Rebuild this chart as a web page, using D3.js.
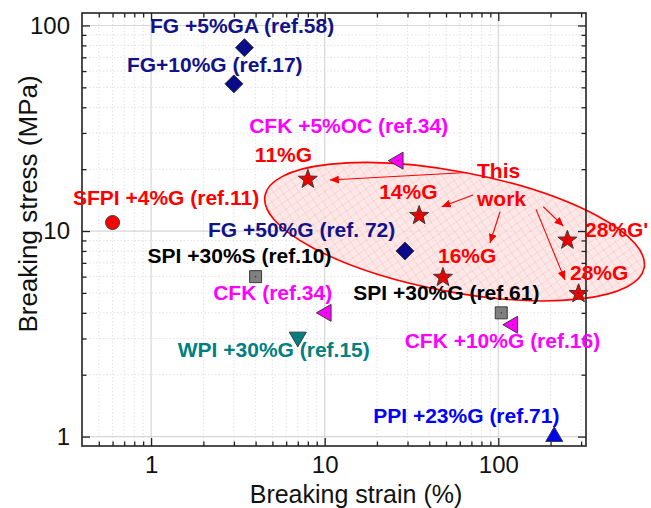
<!DOCTYPE html>
<html><head><meta charset="utf-8">
<script src="https://cdn.jsdelivr.net/npm/d3@7"></script>
<style>body{margin:0;background:#fff}svg{display:block}</style>
</head><body><svg id="c" width="651" height="508"></svg>
<script>
// ---------- data ----------
const labels = ["FG +5%GA (ref.58)","FG+10%G (ref.17)","SFPI +4%G (ref.11)","11%G","CFK +5%OC (ref.34)","14%G","28%G'","FG +50%G (ref. 72)","16%G","28%G","SPI +30%S (ref.10)","SPI +30%G (ref.61)","CFK +10%G (ref.16)","CFK (ref.34)","WPI +30%G (ref.15)","PPI +23%G (ref.71)"];
const strain = [3.45, 3, 0.6, 8, 26.5, 35, 250, 29, 48, 290, 4, 104, 121, 10.2, 7, 210];
const stress = [78, 52, 11, 18, 22, 12, 9.1, 8, 6, 5, 6, 4, 3.5, 4, 3.05, 1.0];
const kind = ["FG","FG","SFPI","this","CFK","this","this","FG","this","this","SPI","SPI","CFK","CFK","WPI","PPI"];
const xTicks = [1, 10, 100];
const yTicks = [1, 10, 100];
const xTickLabels = ["1", "10", "100"];
const yTickLabels = ["1", "10", "100"];
const xTitle = "Breaking strain (%)";
const yTitle = "Breaking stress (MPa)";
const noteText = ["This", "work"];
const noteAt = [75.4, 18.1];          // data position of "This work"
const ellipseAt = [56, 9.93];         // data position of the ellipse centre
const arrowTargets = [3, 5, 8, 6, 9]; // indices of "this work" points

// ---------- layout ----------
const W = 651, H = 508;
const m = {l: 82, r: 586, t: 13, b: 446};
const labelDx = [-94.5,-107,-39.6,-53,-149,-40,17.6,-197,-5,-8.6,-108,-148,-108,-113,-120,-181];
const labelDy = [-14.6,-12,-17.5,-16.5,-27.6,-15.7,-2.4,-14,-13.6,-13,-13.6,-12.8,23.3,-12.8,20,-13.6];
const arrowStart = [[-10,-5.5],[-4,17],[23,33.7],[66.3,28.7],[59,31.3]];
const arrowEnd = [[22,1.5],[22.5,-8],[47,-33.6],[-4,-13.4],[-13.6,-13]];
const ell = {rx: 193, ry: 60, angle: 10.8};

const style = {
  FG:   {sym: "diamond", fill: "#0a0a8c", text: "#12128a"},
  SFPI: {sym: "circle",  fill: "#ff0000", text: "#ff0000"},
  this: {sym: "star",    fill: "#ee0000", text: "#ff0000"},
  CFK:  {sym: "left",    fill: "#ff00ff", text: "#ff00ff"},
  SPI:  {sym: "square",  fill: "#808080", text: "#000000"},
  WPI:  {sym: "down",    fill: "#008080", text: "#008080"},
  PPI:  {sym: "up",      fill: "#0000ff", text: "#0000ff"}
};

const FONT = "'Liberation Sans', Arial, sans-serif";
const svg = d3.select("#c");
svg.append("rect").attr("width", W).attr("height", H).attr("fill", "#fff");

const x = d3.scaleLog().domain([0.4, 320]).range([m.l, m.r]);
const y = d3.scaleLog().domain([0.9, 115]).range([m.b, m.t]);

function minors(dom) {
  const out = [];
  for (let e = -2; e <= 3; e++) for (let k = 2; k <= 9; k++) {
    const v = k * Math.pow(10, e);
    if (v > dom[0] && v < dom[1]) out.push(v);
  }
  return out;
}
const xMinor = minors(x.domain()), yMinor = minors(y.domain());

// ---------- defs ----------
const defs = svg.append("defs");
const pat = defs.append("pattern").attr("id", "hatch").attr("patternUnits", "userSpaceOnUse")
  .attr("width", 10).attr("height", 10);
pat.append("rect").attr("width", 10).attr("height", 10).attr("fill", "#fde4e4");
pat.append("path").attr("d", "M0,0L10,10M10,0L0,10").attr("stroke", "#f7c6c6").attr("stroke-width", 0.9);
defs.append("marker").attr("id", "ah").attr("markerUnits", "userSpaceOnUse")
  .attr("markerWidth", 10).attr("markerHeight", 8).attr("refX", 9).attr("refY", 4)
  .attr("orient", "auto")
  .append("path").attr("d", "M0,0L9,4L0,8Z").attr("fill", "#ff0000");

// ---------- grid ----------
const grid = svg.append("g");
grid.selectAll(".gxm").data(xMinor).join("line")
  .attr("x1", d => x(d)).attr("x2", d => x(d)).attr("y1", m.t).attr("y2", m.b)
  .attr("stroke", "#dcdcdc").attr("stroke-width", 0.8).attr("stroke-dasharray", "1.5,2");
grid.selectAll(".gym").data(yMinor).join("line")
  .attr("y1", d => y(d)).attr("y2", d => y(d)).attr("x1", m.l).attr("x2", m.r)
  .attr("stroke", "#dcdcdc").attr("stroke-width", 0.8).attr("stroke-dasharray", "1.5,2");
grid.selectAll(".gx").data(xTicks).join("line")
  .attr("x1", d => x(d)).attr("x2", d => x(d)).attr("y1", m.t).attr("y2", m.b)
  .attr("stroke", "#d6d6d6").attr("stroke-width", 1.2);
grid.selectAll(".gy").data(yTicks).join("line")
  .attr("y1", d => y(d)).attr("y2", d => y(d)).attr("x1", m.l).attr("x2", m.r)
  .attr("stroke", "#d6d6d6").attr("stroke-width", 1.2);

// ---------- ellipse ----------
const ex = x(ellipseAt[0]), ey = y(ellipseAt[1]);
svg.append("ellipse").attr("cx", 0).attr("cy", 0).attr("rx", ell.rx).attr("ry", ell.ry)
  .attr("transform", `translate(${ex},${ey}) rotate(${ell.angle})`)
  .attr("fill", "url(#hatch)").attr("fill-opacity", 0.85)
  .attr("stroke", "#ff0000").attr("stroke-width", 1.6);

// ---------- axes (inward ticks on all four sides) ----------
const ax = svg.append("g").attr("font-family", FONT);
function styleAxis(g) {
  g.select(".domain").remove();
  g.selectAll(".tick line").attr("stroke", "#222").attr("stroke-width", 1.3);
  g.selectAll("text").attr("font-size", 24).attr("fill", "#111").attr("font-family", FONT);
}
ax.append("g").attr("transform", `translate(0,${m.b})`)
  .call(d3.axisBottom(x).tickValues(xTicks).tickFormat((d, i) => xTickLabels[i]).tickSize(-8).tickPadding(10)).call(styleAxis);
ax.append("g").attr("transform", `translate(0,${m.b})`)
  .call(d3.axisBottom(x).tickValues(xMinor).tickFormat("").tickSize(-4.5)).call(styleAxis);
ax.append("g").attr("transform", `translate(0,${m.t})`)
  .call(d3.axisTop(x).tickValues(xTicks).tickFormat("").tickSize(-8)).call(styleAxis);
ax.append("g").attr("transform", `translate(0,${m.t})`)
  .call(d3.axisTop(x).tickValues(xMinor).tickFormat("").tickSize(-4.5)).call(styleAxis);
ax.append("g").attr("transform", `translate(${m.l},0)`)
  .call(d3.axisLeft(y).tickValues(yTicks).tickFormat((d, i) => yTickLabels[i]).tickSize(-8).tickPadding(12)).call(styleAxis);
ax.append("g").attr("transform", `translate(${m.l},0)`)
  .call(d3.axisLeft(y).tickValues(yMinor).tickFormat("").tickSize(-4.5)).call(styleAxis);
ax.append("g").attr("transform", `translate(${m.r},0)`)
  .call(d3.axisRight(y).tickValues(yTicks).tickFormat("").tickSize(-8)).call(styleAxis);
ax.append("g").attr("transform", `translate(${m.r},0)`)
  .call(d3.axisRight(y).tickValues(yMinor).tickFormat("").tickSize(-4.5)).call(styleAxis);
svg.append("rect").attr("x", m.l).attr("y", m.t).attr("width", m.r - m.l).attr("height", m.b - m.t)
  .attr("fill", "none").attr("stroke", "#222").attr("stroke-width", 1.6);

// axis titles
svg.append("text").attr("x", (245 + 467) / 2).attr("y", 503).attr("text-anchor", "middle")
  .attr("font-family", FONT).attr("font-size", 25).attr("fill", "#111").text(xTitle);
svg.append("text").attr("transform", "translate(37,204) rotate(-90)").attr("text-anchor", "middle")
  .attr("font-family", FONT).attr("font-size", 26).attr("fill", "#111").text(yTitle);

// ---------- arrows ----------
const nx = x(noteAt[0]), ny = y(noteAt[1]);
svg.append("g").selectAll("line").data(arrowTargets).join("line")
  .attr("x1", (d, i) => nx + arrowStart[i][0]).attr("y1", (d, i) => ny + arrowStart[i][1])
  .attr("x2", (d, i) => x(strain[d]) + arrowEnd[i][0]).attr("y2", (d, i) => y(stress[d]) + arrowEnd[i][1])
  .attr("stroke", "#ff0000").attr("stroke-width", 1.1).attr("marker-end", "url(#ah)");

// ---------- markers ----------
function shape(s) {
  const p = d3.path();
  if (s === "circle") { p.arc(0, 0, 7, 0, 2 * Math.PI); return p.toString(); }
  if (s === "square") { return "M-6,-6H6V6H-6Z"; }
  if (s === "diamond") { return "M0,-9L9,0L0,9L-9,0Z"; }
  if (s === "star") {
    const R = 10, r = 4.1;
    let d = "";
    for (let k = 0; k < 10; k++) {
      const a = -Math.PI / 2 + k * Math.PI / 5, rr = k % 2 ? r : R;
      d += (k ? "L" : "M") + (rr * Math.cos(a)).toFixed(2) + "," + (rr * Math.sin(a) + 0.8).toFixed(2);
    }
    return d + "Z";
  }
  const R = 9.8;
  const base = [[0, -R], [R * Math.sin(2 * Math.PI / 3), R / 2], [-R * Math.sin(2 * Math.PI / 3), R / 2]];
  const rot = {up: 0, down: 180, left: -90}[s] * Math.PI / 180;
  return "M" + base.map(([a, b]) => [a * Math.cos(rot) - b * Math.sin(rot), a * Math.sin(rot) + b * Math.cos(rot)])
    .map(q => q[0].toFixed(2) + "," + q[1].toFixed(2)).join("L") + "Z";
}
const pts = svg.append("g").selectAll("g").data(d3.range(strain.length)).join("g")
  .attr("transform", i => `translate(${x(strain[i])},${y(stress[i])})`);
pts.append("path").attr("d", i => shape(style[kind[i]].sym))
  .attr("fill", i => style[kind[i]].fill).attr("stroke", "#3a3a3a").attr("stroke-width", 1);
pts.append("circle").attr("r", 0.8).attr("fill", "#222").attr("opacity", 0.7);

// ---------- labels ----------
svg.append("g").selectAll("text").data(d3.range(labels.length)).join("text")
  .attr("x", i => x(strain[i]) + labelDx[i]).attr("y", i => y(stress[i]) + labelDy[i])
  .attr("font-family", FONT).attr("font-weight", "bold").attr("font-size", 21)
  .attr("fill", i => style[kind[i]].text).text(i => labels[i]);
svg.append("g").selectAll("text").data(noteText).join("text")
  .attr("x", nx).attr("y", (d, i) => ny + i * 27.5)
  .attr("font-family", FONT).attr("font-weight", "bold").attr("font-size", 21)
  .attr("fill", "#ff0000").text(d => d);
</script></body></html>
